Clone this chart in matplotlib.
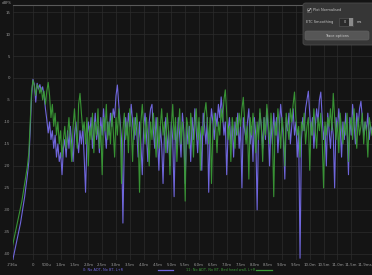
import numpy as np
import matplotlib.pyplot as plt
from matplotlib.patches import FancyBboxPatch, Rectangle

# time axis (ms), 0.05 ms per sample
t_start, t_end = -0.75, 12.25

# trace 0: No ADT, No BT, L+R  (dB)
trace0 = [
    -42, -40.5, -39, -37.5, -36, -34.5, -33, -31, -29, -27,
    -24.5, -22, -19, -12, -4, -0.3, -1.5, -5.5, -1.2, -2.5,
    -1.5, -3, -2, -4, -7, -9.5, -12.5, -10, -14, -12,
    -16, -13, -18, -15, -19, -17, -22, -16, -14, -18,
    -12, -16, -11, -15, -19, -13, -10, -14, -17, -12,
    -15, -11, -18, -26, -14, -10, -13, -9, -16, -12,
    -8, -14, -11, -17, -9, -13, -7, -12, -16, -10,
    -13, -8, -11, -7, -9, -4, -1.6, -6, -10, -14,
    -33, -15, -9, -13, -8, -11, -6, -10, -14, -9,
    -12, -18, -10, -15, -22, -11, -8, -13, -19, -10,
    -7, -6, -12, -16, -9, -14, -21, -11, -15, -24,
    -13, -9, -17, -12, -20, -10, -14, -27, -11, -16,
    -9, -13, -18, -8, -12, -24, -10, -15, -11, -19,
    -9, -14, -7, -12, -17, -10, -13, -21, -8, -11,
    -15, -9, -26, -12, -7, -10, -14, -8, -11, -6,
    -9, -4.3, -8, -13, -10, -22, -12, -9, -15, -11,
    -18, -10, -13, -8, -16, -11, -25, -9, -12, -14,
    -10, -7, -15, -11, -19, -9, -13, -30, -12, -8,
    -11, -16, -9, -14, -7, -12, -20, -10, -15, -8,
    -13, -9, -17, -11, -6, -10, -14, -23, -9, -12,
    -8, -15, -11, -7, -13, -10, -18, -12, -41, -14,
    -9, -12, -7, -5, -3, -8, -13, -9, -16, -11,
    -7, -10, -5, -3.2, -9, -14, -11, -20, -8, -12,
    -16, -10, -13, -25, -9, -12, -7, -11, -18, -10,
    -14, -8, -12, -22, -9, -13, -6, -10, -15, -8,
    -11, -7, -5.3, -9, -13, -10, -12, -8, -14, -11, -12,
]

# trace 11: No ADT, No BT, Bed head wall, L+R  (dB)
trace11 = [
    -38.5, -37, -35.5, -34, -32.5, -31, -29.5, -28, -26, -24,
    -22, -20, -17, -10, -3, -0.5, -1.8, -4, -1.5, -2,
    -3.5, -2.2, -5, -3, -6, -3, -1, -4, -9, -6,
    -11, -8, -13, -10, -15, -12, -18, -14, -11, -16,
    -13, -9, -14, -19, -11, -7, -12, -16, -6, -3.5,
    -8, -12, -10, -15, -9, -20, -11, -14, -8, -17,
    -10, -13, -7, -16, -11, -22, -9, -12, -6, -14,
    -10, -15, -8, -12, -18, -9, -13, -7, -11, -24,
    -12, -8, -14, -10, -17, -7, -11, -19, -9, -13,
    -8, -12, -26, -10, -6, -11, -15, -9, -13, -20,
    -10, -14, -8, -12, -18, -9, -16, -11, -7, -13,
    -10, -17, -8, -12, -22, -11, -6, -14, -9, -19,
    -12, -7, -15, -10, -13, -28, -9, -11, -16, -8,
    -12, -18, -10, -7, -14, -9, -21, -11, -13, -8,
    -5.6, -10, -15, -9, -24, -12, -8, -11, -17, -10,
    -13, -7, -10, -5, -2.7, -8, -14, -11, -19, -9,
    -12, -16, -9, -13, -8, -11, -7, -4.4, -10, -15,
    -11, -23, -9, -13, -8, -12, -17, -10, -14, -7,
    -11, -19, -9, -13, -6, -10, -15, -8, -12, -27,
    -10, -13, -7, -11, -16, -9, -12, -20, -8, -11,
    -14, -7, -10, -6, -3.2, -9, -13, -11, -18, -10,
    -12, -8, -15, -11, -9, -21, -10, -13, -7, -12,
    -16, -9, -12, -8, -14, -25, -10, -13, -9, -11,
    -7, -12, -3.5, -9, -14, -10, -17, -8, -12, -15,
    -10, -13, -8, -19, -11, -9, -14, -7, -12, -16,
    -9, -13, -11, -8, -15, -10, -12, -18, -9, -11, -13,
]

x_ticks = [-0.736] + [i * 0.5 for i in range(24)] + [12.25]
x_labels = ['-736u', '0', '500u'] + ['%.1fm' % (i * 0.5) for i in range(2, 24)] + ['11.9ms']
y_ticks = list(range(15, -45, -5))

legend_names = ['0: No ADT, No BT, L+R', '11: No ADT, No BT, Bed head wall, L+R']
colors = ['#6f66dc', '#3a9a36']

bg = '#141414'
txt = '#9a9a9a'
fs = 2.8
fs_small = 2.5

plt.rcParams['axes.unicode_minus'] = False
W, H = 372, 275
fig = plt.figure(figsize=(W / 100, H / 100), dpi=100, facecolor=bg)


def px(x, y):
    return x / W, 1 - y / H


ax = fig.add_axes([12.6 / W, 15 / H, 1 - 12.6 / W, 255 / H])
ax.set_facecolor(bg)

t = np.linspace(t_start, t_end, len(trace0))
ax.plot(t, trace0, color=colors[0], lw=0.8)
ax.plot(t, trace11, color=colors[1], lw=0.8, alpha=0.95)

ax.set_xlim(-0.736, 12.25)
ax.set_ylim(-41.4, 16.6)
ax.set_xticks(x_ticks)
ax.set_xticklabels(x_labels)
ax.set_yticks(y_ticks)
ax.set_yticklabels([str(v) for v in y_ticks])
ax.tick_params(length=0, labelsize=fs, colors=txt, pad=1.8)
ax.tick_params(axis='y', pad=1.5)
ax.get_xticklabels()[-1].set_horizontalalignment('right')
ax.grid(True, color='#2c2c2c', lw=0.5)
for s in ['left', 'right', 'bottom']:
    ax.spines[s].set_visible(False)
ax.spines['top'].set_color('#5a5a5a')
ax.spines['top'].set_linewidth(0.8)

fig.text(*px(2, 1), 'dBFS', fontsize=fs, color=txt, va='top', ha='left')

# legend along the bottom
fig.text(*px(83, 270), legend_names[0], fontsize=fs_small, color=colors[0], va='center')
fig.add_artist(plt.Line2D([158 / W, 173 / W], [1 - 270 / H] * 2, color=colors[0], lw=0.9))
fig.text(*px(186, 270), legend_names[1], fontsize=fs_small, color=colors[1], va='center')
fig.add_artist(plt.Line2D([256 / W, 272 / W], [1 - 270 / H] * 2, color=colors[1], lw=0.9))

# trace options panel (top right)
x0, y0 = px(303, 45)
fig.add_artist(FancyBboxPatch((x0, y0), 80 / W, 42 / H, boxstyle='round,pad=0,rounding_size=0.008',
                              transform=fig.transFigure, facecolor='#363636', edgecolor='#4a4a4a', lw=0.6))
cx, cy = px(307, 12)
fig.add_artist(Rectangle((cx, cy), 4 / W, 4 / H, transform=fig.transFigure,
                         facecolor='#2a2a2a', edgecolor='#777777', lw=0.4))
# tick mark in the checkbox
fig.add_artist(plt.Line2D([307.8 / W, 308.8 / W, 310.6 / W],
                          [1 - 10 / H, 1 - 11.3 / H, 1 - 8.6 / H], color='#dddddd', lw=0.5))
fig.text(*px(313, 10), 'Plot Normalised', fontsize=fs_small, color='#c8c8c8', va='center')
fig.text(*px(306, 22), 'ETC Smoothing', fontsize=fs_small, color='#c8c8c8', va='center')
sx, sy = px(339, 26)
fig.add_artist(Rectangle((sx, sy), 14 / W, 8 / H, transform=fig.transFigure,
                         facecolor='#2a2a2a', edgecolor='#5a5a5a', lw=0.4))
fig.add_artist(Rectangle(px(349, 26), 4 / W, 8 / H, transform=fig.transFigure,
                         facecolor='#8a8a8a', edgecolor='none'))
fig.text(*px(345, 22), '0', fontsize=fs_small, color='#cccccc', va='center', ha='center')
fig.text(*px(357, 22), 'ms', fontsize=fs_small, color='#c8c8c8', va='center')
bx, by = px(305, 40)
fig.add_artist(FancyBboxPatch((bx, by), 64 / W, 9 / H, boxstyle='round,pad=0,rounding_size=0.006',
                              transform=fig.transFigure, facecolor='#565656', edgecolor='#666666', lw=0.4))
fig.text(*px(337, 35.5), 'Trace options', fontsize=fs_small, color='#d0d0d0', va='center', ha='center')

fig.savefig('out.png', dpi=100, facecolor=bg)
